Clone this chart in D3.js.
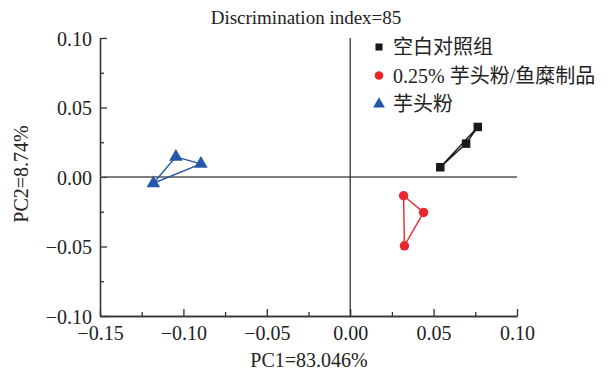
<!DOCTYPE html>
<html>
<head>
<meta charset="utf-8">
<script src="https://cdn.jsdelivr.net/npm/d3@7"></script>
<style>
  body { margin: 0; background: #fff; }
  svg text { fill: #222; }
</style>
</head>
<body>
<svg id="chart" width="608" height="372"></svg>
<script>
// data
const seriesNames = ["空白对照组", "0.25% 芋头粉/鱼糜制品", "芋头粉"]
const blankPoints = [[0.054, 0.007], [0.0695, 0.024], [0.0765, 0.036]]
const mixPoints = [[0.032, -0.0135], [0.044, -0.0255], [0.0325, -0.0495]]
const taroPoints = [[-0.1045, 0.0145], [-0.0895, 0.0095], [-0.118, -0.0045]]
const xTicks = [-0.15, -0.10, -0.05, 0.00, 0.05, 0.10]
const yTicks = [-0.10, -0.05, 0.00, 0.05, 0.10]
const colors = ["#1a1a1a", "#e8262c", "#2358a8"]

const serif = "'Liberation Serif', 'Noto Sans CJK SC', serif"
const svg = d3.select("#chart")
const x = d3.scaleLinear().domain([-0.15, 0.10]).range([100, 517])
const y = d3.scaleLinear().domain([-0.10, 0.10]).range([316, 38])

const fmt = d3.format(".2f")

// axes
const xAxis = d3.axisBottom(x).tickValues(xTicks).tickFormat(fmt).tickSizeInner(-7).tickSizeOuter(0).tickPadding(10)
const xMinor = d3.axisBottom(x).tickValues(d3.range(-0.125, 0.1, 0.05)).tickFormat("").tickSizeInner(-4).tickSizeOuter(0)
const yAxis = d3.axisLeft(y).tickValues(yTicks).tickFormat(fmt).tickSizeInner(-7).tickSizeOuter(0).tickPadding(8)
const yMinor = d3.axisLeft(y).tickValues(d3.range(-0.075, 0.1, 0.05)).tickFormat("").tickSizeInner(-4).tickSizeOuter(0)

const gx = svg.append("g").attr("transform", `translate(0,${y(-0.10)})`).call(xAxis)
svg.append("g").attr("transform", `translate(0,${y(-0.10)})`).call(xMinor)
const gy = svg.append("g").attr("transform", `translate(${x(-0.15)},0)`).call(yAxis)
svg.append("g").attr("transform", `translate(${x(-0.15)},0)`).call(yMinor)

svg.selectAll(".domain, .tick line").attr("stroke", "#333").attr("stroke-width", 1.3)
svg.selectAll(".tick text").style("font-size", "20px").style("font-family", serif).attr("fill", "#222")
gy.selectAll(".tick text").attr("dy", "0.35em")
gx.selectAll(".tick text").attr("dy", "0.68em")

// zero lines
svg.append("line").attr("x1", x(-0.15)).attr("x2", x(0.10)).attr("y1", y(0)).attr("y2", y(0))
  .attr("stroke", "#555").attr("stroke-width", 1.5)
svg.append("line").attr("x1", x(0)).attr("x2", x(0)).attr("y1", y(0.10)).attr("y2", y(-0.10))
  .attr("stroke", "#333").attr("stroke-width", 1.3)

// polygons joining each group
const groups = [blankPoints, mixPoints, taroPoints]
const closed = d3.line().x(d => x(d[0])).y(d => y(d[1])).curve(d3.curveLinearClosed)
groups.forEach((pts, i) => {
  svg.append("path").datum(pts).attr("d", closed)
    .attr("fill", "none").attr("stroke", colors[i]).attr("stroke-width", 1.4)
})

const shapes = [d3.symbolSquare, d3.symbolCircle, d3.symbolTriangle]
const sizes = [72, 70, 80]
groups.forEach((pts, i) => {
  svg.selectAll(null).data(pts).enter().append("path")
    .attr("d", d3.symbol(shapes[i], sizes[i]))
    .attr("transform", d => `translate(${x(d[0])},${y(d[1])})`)
    .attr("fill", colors[i])
})

// title + axis labels
svg.append("text").attr("x", 306).attr("y", 24).attr("text-anchor", "middle")
  .style("font-family", serif).style("font-size", "19px").text("Discrimination index=85")
svg.append("text").attr("x", 309).attr("y", 367).attr("text-anchor", "middle")
  .style("font-family", serif).style("font-size", "20px").text("PC1=83.046%")
svg.append("text").attr("transform", "translate(28,174) rotate(-90)").attr("text-anchor", "middle")
  .style("font-family", serif).style("font-size", "20px").text("PC2=8.74%")

// legend
const legend = svg.append("g").attr("transform", "translate(379,47)")
seriesNames.forEach((name, i) => {
  const row = legend.append("g").attr("transform", `translate(0,${i * 28.5})`)
  row.append("path").attr("d", d3.symbol(shapes[i], [50, 60, 60][i])).attr("fill", colors[i])
  row.append("text").attr("x", 14).attr("dy", "0.35em")
    .style("font-family", serif).style("font-size", "20px").text(name)
})
</script>
</body>
</html>
